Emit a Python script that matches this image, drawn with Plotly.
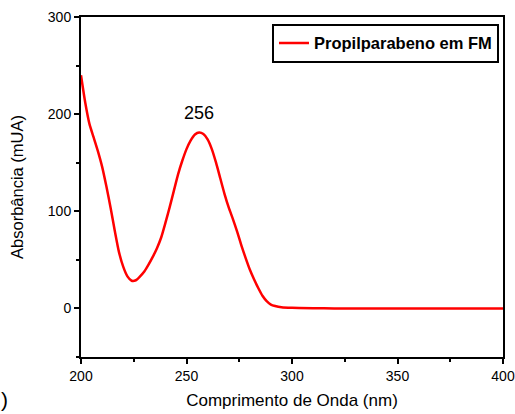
import plotly.graph_objects as go

wavelength = [200, 202, 204, 206, 208, 210, 212, 214, 216, 218, 220, 222, 224, 226, 228,
              230, 232, 234, 236, 238, 240, 242, 244, 246, 248, 250, 252, 254, 256, 258,
              260, 262, 264, 266, 268, 270, 272, 274, 276, 278, 280, 282, 284, 286, 288,
              290, 292, 295, 300, 310, 320, 340, 360, 380, 400]
absorbance = [240, 212, 190, 176, 162, 146, 126, 104, 80, 58, 43, 33, 28.5, 29, 33,
              38, 45, 53, 62, 73, 88, 104, 121, 138, 152, 164, 173, 179, 181, 179.5,
              174, 164, 150, 134, 118, 104, 92, 79, 65, 52, 40, 30, 21, 13, 7.5,
              4, 2.5, 1.2, 0.6, 0.2, 0, 0, 0, 0, 0]

series_name = "Propilparabeno em FM"
peak_label = "256"
peak_x = 256
peak_y = 201

x_title = "Comprimento de Onda (nm)"
y_title = "Absorbância (mUA)"

font_family = "Liberation Sans, Arial, sans-serif"

fig = go.Figure()
fig.add_trace(go.Scatter(
    x=wavelength, y=absorbance, mode="lines", name="<b>" + series_name + "</b>",
    line=dict(color="#ff0000", width=2.5, shape="spline", smoothing=0.6),
    showlegend=True,
))

fig.add_annotation(x=peak_x, y=peak_y, text=peak_label, showarrow=False,
                   font=dict(size=18, color="black", family=font_family))
fig.add_annotation(xref="paper", yref="paper", x=-0.182, y=-0.126, text=")",
                   xanchor="center", yanchor="middle",
                   showarrow=False, font=dict(size=21, color="black", family=font_family))

axis_common = dict(
    showline=True, linecolor="black", linewidth=2, mirror=True,
    ticks="outside", ticklen=5, tickwidth=1.5, tickcolor="black",
    showgrid=False, zeroline=False, automargin=False,
    tickfont=dict(size=14, color="black", family=font_family),
)

fig.update_xaxes(range=[200, 400], tickvals=[200, 250, 300, 350, 400],
                 minor=dict(ticks="outside", ticklen=3, tickwidth=1.5, tickcolor="black",
                            tickvals=[225, 275, 325, 375]),
                 title=dict(text=x_title, font=dict(size=17, color="black", family=font_family),
                            standoff=11),
                 **axis_common)
fig.update_yaxes(range=[-50, 300], tickvals=[0, 100, 200, 300],
                 minor=dict(ticks="outside", ticklen=3, tickwidth=1.5, tickcolor="black",
                            tickvals=[-50, 50, 150, 250]),
                 title=dict(text=y_title, font=dict(size=16.5, color="black", family=font_family),
                            standoff=20),
                 **axis_common)

fig.update_layout(
    width=515, height=414,
    margin=dict(l=81, r=12, t=17, b=57),
    plot_bgcolor="white", paper_bgcolor="white",
    font=dict(family=font_family, color="black"),
    legend=dict(x=0.9905, y=0.98, xanchor="right", yanchor="top",
                bordercolor="black", borderwidth=2, bgcolor="white",
                font=dict(size=16.5, color="black", family=font_family),
                itemwidth=30, tracegroupgap=0, valign="middle"),
)

fig.write_html("out.html")
